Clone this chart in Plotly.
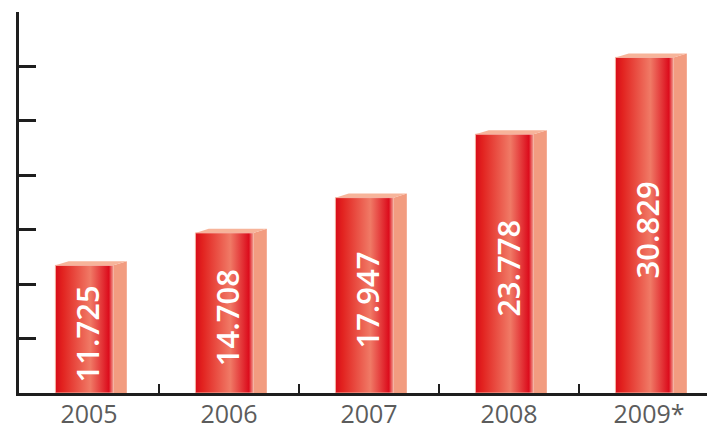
import plotly.graph_objects as go

categories = ["2005", "2006", "2007", "2008", "2009*"]
values = [11.725, 14.708, 17.947, 23.778, 30.829]
value_labels = ["11.725", "14.708", "17.947", "23.778", "30.829"]

# geometry of the pseudo-3D bars (in axis units)
FRONT_L, FRONT_R = -0.24, 0.175
DX, DY = 0.095, 0.37

front_scale = [[0.0, "#d80c1a"], [0.12, "#e2221f"], [0.6, "#f07a66"],
               [0.92, "#dc0c1c"], [1.0, "#f3a696"]]

fig = go.Figure()
for i, v in enumerate(values):
    xl, xr = i + FRONT_L, i + FRONT_R
    # side face
    fig.add_trace(go.Scatter(
        x=[xr, xr + DX, xr + DX, xr, xr], y=[0, 0, v + DY, v, 0],
        mode="lines", fill="toself", fillcolor="#f29c80",
        line=dict(width=0), hoverinfo="skip", showlegend=False))
    # top face
    fig.add_trace(go.Scatter(
        x=[xl, xl + DX, xr + DX, xr, xl], y=[v, v + DY, v + DY, v, v],
        mode="lines", fill="toself", fillcolor="#f7b49a",
        line=dict(width=0), hoverinfo="skip", showlegend=False))
    # front face with gradient
    fig.add_trace(go.Scatter(
        x=[xl, xr, xr, xl, xl], y=[0, 0, v, v, 0],
        mode="lines", fill="toself",
        fillgradient=dict(type="horizontal", colorscale=front_scale,
                          start=xl, stop=xr),
        line=dict(width=1, color="#f5b2a2"), hoverinfo="skip",
        showlegend=False))
    fig.add_annotation(
        x=i + (FRONT_L + FRONT_R) / 2 + 0.02, y=v / 2, xref="x", yref="y",
        text=value_labels[i], textangle=-90, showarrow=False,
        xanchor="center", yanchor="middle", yshift=-5,
        font=dict(family="Open Sans", size=31, color="white", weight=600))

fig.update_layout(
    width=707, height=430,
    margin=dict(l=19, r=0, t=12, b=37, autoexpand=False),
    paper_bgcolor="white", plot_bgcolor="white",
    showlegend=False,
    xaxis=dict(
        range=[-0.5, 4.414], showgrid=False, zeroline=False,
        showline=True, linewidth=3, linecolor="#1e1e1e",
        tickmode="array", tickvals=list(range(len(categories))),
        ticktext=categories, ticks="", automargin=False,
        ticklabelstandoff=-3,
        tickfont=dict(family="Open Sans", size=25, color="#5c5c5c"),
        minor=dict(tickmode="array", tickvals=[0.5, 1.5, 2.5, 3.5],
                   ticks="inside", ticklen=9, tickwidth=2,
                   tickcolor="#1e1e1e", showgrid=False),
        fixedrange=True),
    yaxis=dict(
        range=[0, 35], dtick=5, tick0=0, showgrid=False, zeroline=False,
        showline=True, linewidth=3, linecolor="#1e1e1e", automargin=False,
        ticks="inside", ticklen=17, tickwidth=3, tickcolor="#1e1e1e",
        showticklabels=False, fixedrange=True),
)

fig.write_html("out.html",
               config={"displayModeBar": False},
               post_script="document.body.style.margin='0';"
                           "document.body.style.overflow='hidden';")
